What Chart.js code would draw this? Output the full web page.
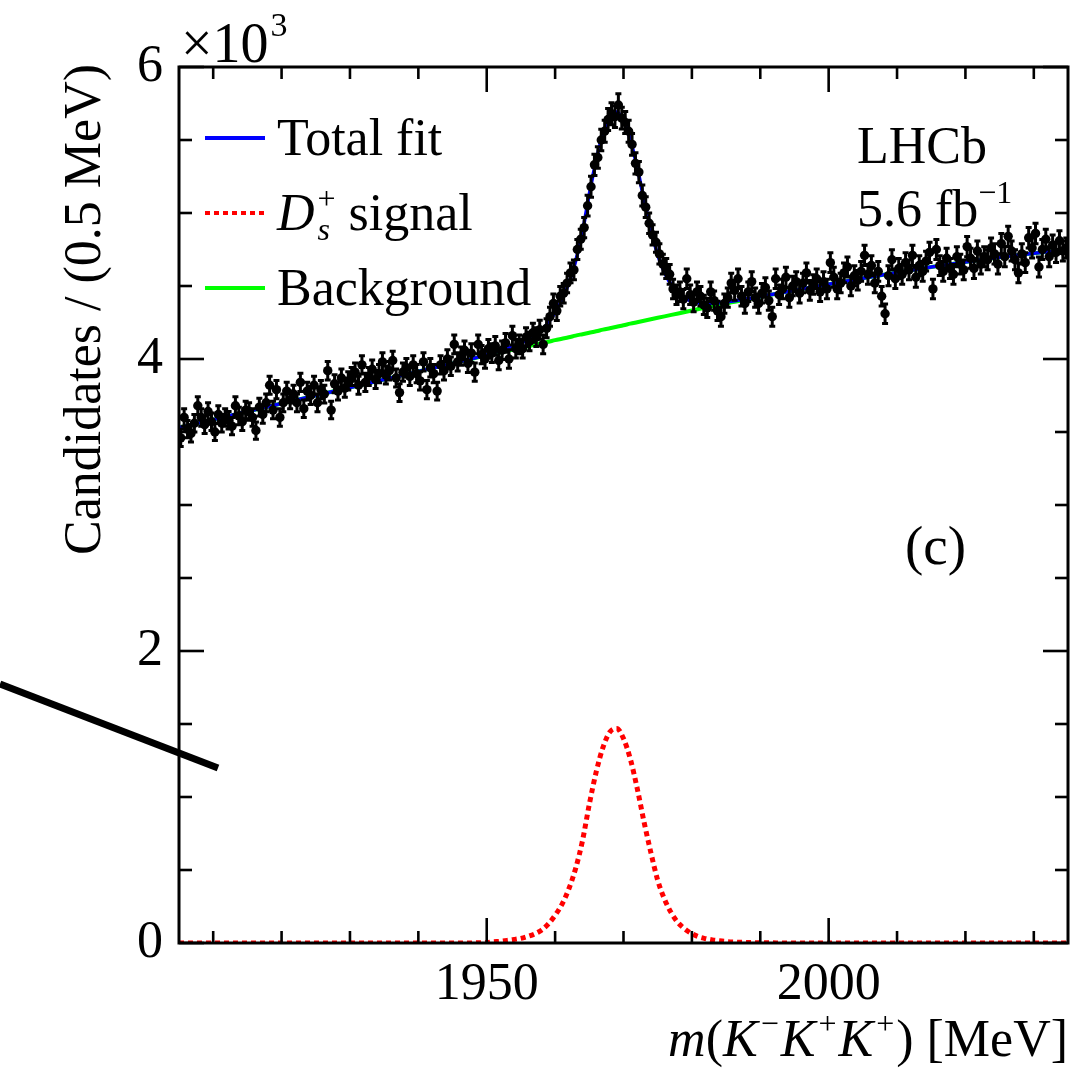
<!DOCTYPE html>
<html>
<head>
<meta charset="utf-8">
<script src="https://cdn.jsdelivr.net/npm/chart.js@4.4.1/dist/chart.umd.min.js"></script>
<style>
  html, body { margin: 0; padding: 0; background: #fff; }
  #wrap { width: 1076px; height: 1069px; }
</style>
</head>
<body>
<div id="wrap"><canvas id="massChart" width="1076" height="1069"></canvas></div>
<script>
// ── Data ───────────────────────────────────────────────────────
// binning of the histogram: 0.5 MeV bins from 1905 to 2035 MeV
const binLow = 1905;
const binWidth = 0.5;

// candidates per bin
const counts = [
  3460, 3600, 3520, 3490, 3560, 3680, 3600, 3550, 3640, 3570, 3500, 3620, 3560, 3600, 3580, 3540, 3680, 3610, 3570, 3650,
  3640, 3600, 3510, 3670, 3620, 3700, 3820, 3650, 3790, 3600, 3700, 3780, 3720, 3760, 3700, 3840, 3660, 3780, 3750, 3820,
  3700, 3790, 3760, 3920, 3650, 3830, 3780, 3870, 3800, 3850, 3880, 3910, 3820, 3960, 3840, 3880, 3930, 3860, 3900, 3980,
  3890, 3920, 3990, 3870, 3770, 3910, 3940, 3880, 3960, 3900, 3850, 3980, 3790, 3940, 3900, 3780, 3960, 3920, 4000, 3950,
  4100, 3980, 4020, 4060, 3970, 4040, 3910, 4100, 4030, 4000, 4070, 4040, 4090, 3990, 4060, 4110, 4000, 4160, 4070, 4100,
  4070, 4150, 4120, 4180, 4150, 4200, 4100, 4210, 4290, 4380, 4330, 4430, 4450, 4520, 4590, 4610, 4750, 4820, 4900, 5050,
  5180, 5330, 5380, 5500, 5560, 5640, 5680, 5660, 5740, 5650, 5620, 5560, 5470, 5340, 5280, 5120, 5040, 4930, 4850, 4800,
  4720, 4650, 4620, 4580, 4480, 4440, 4460, 4410, 4550, 4440, 4390, 4460, 4430, 4370, 4350, 4460, 4400, 4330, 4290, 4380,
  4420, 4520, 4470, 4550, 4430, 4380, 4460, 4530, 4420, 4380, 4450, 4490, 4400, 4290, 4550, 4440, 4480, 4560, 4420, 4500,
  4530, 4450, 4520, 4590, 4470, 4510, 4550, 4460, 4530, 4480, 4660, 4560, 4480, 4520, 4590, 4630, 4500, 4570, 4540, 4600,
  4710, 4580, 4640, 4520, 4600, 4430, 4310, 4570, 4680, 4550, 4620, 4580, 4660, 4610, 4710, 4560, 4640, 4600, 4670, 4730,
  4480, 4750, 4640, 4600, 4690, 4620, 4580, 4700, 4650, 4610, 4770, 4690, 4620, 4740, 4650, 4700, 4680, 4760, 4720, 4650,
  4790, 4700, 4840, 4740, 4680, 4590, 4720, 4660, 4830, 4760, 4860, 4630, 4750, 4820, 4700, 4780, 4730, 4810, 4740, 4760
];

// statistical uncertainty per bin
const errors = [
  59, 60, 59, 59, 60, 61, 60, 60, 60, 60, 59, 60, 60, 60, 60, 59, 61, 60, 60, 60,
  60, 60, 59, 61, 60, 61, 62, 60, 62, 60, 61, 61, 61, 61, 61, 62, 60, 61, 61, 62,
  61, 62, 61, 63, 60, 62, 61, 62, 62, 62, 62, 63, 62, 63, 62, 62, 63, 62, 62, 63,
  62, 63, 63, 62, 61, 63, 63, 62, 63, 62, 62, 63, 62, 63, 62, 61, 63, 63, 63, 63,
  64, 63, 63, 64, 63, 64, 63, 64, 63, 63, 64, 64, 64, 63, 64, 64, 63, 64, 64, 64,
  64, 64, 64, 65, 64, 65, 64, 65, 65, 66, 66, 67, 67, 67, 68, 68, 69, 69, 70, 71,
  72, 73, 73, 74, 75, 75, 75, 75, 76, 75, 75, 75, 74, 73, 73, 72, 71, 70, 70, 69,
  69, 68, 68, 68, 67, 67, 67, 66, 67, 67, 66, 67, 67, 66, 66, 67, 66, 66, 65, 66,
  66, 67, 67, 67, 67, 66, 67, 67, 66, 66, 67, 67, 66, 65, 67, 67, 67, 68, 66, 67,
  67, 67, 67, 68, 67, 67, 67, 67, 67, 67, 68, 68, 67, 67, 68, 68, 67, 68, 67, 68,
  69, 68, 68, 67, 68, 67, 66, 68, 68, 67, 68, 68, 68, 68, 69, 68, 68, 68, 68, 69,
  67, 69, 68, 68, 68, 68, 68, 69, 68, 68, 69, 68, 68, 69, 68, 69, 68, 69, 69, 68,
  69, 69, 70, 69, 68, 68, 69, 68, 70, 69, 70, 68, 69, 69, 69, 69, 69, 69, 69, 69
];

// fit curves, sampled on a mass grid
const fitMass = [
  1905, 1910, 1915, 1920, 1925, 1930, 1935, 1940, 1945, 1950,
  1951, 1952, 1953, 1954, 1955, 1956, 1957, 1958, 1959, 1960,
  1961, 1962, 1963, 1964, 1965, 1966, 1967, 1968, 1969, 1970,
  1971, 1972, 1973, 1974, 1975, 1976, 1977, 1978, 1979, 1980,
  1981, 1982, 1983, 1984, 1985, 1986, 1987, 1990, 1995, 2000,
  2005, 2010, 2015, 2020, 2025, 2030, 2035
];
const totalFit = [
  3530, 3585, 3640, 3695, 3750, 3805, 3860, 3915, 3970, 4028,
  4044, 4058, 4074, 4091, 4109, 4132, 4160, 4196, 4248, 4319,
  4404, 4519, 4670, 4870, 5130, 5360, 5541, 5656, 5691, 5631,
  5502, 5312, 5092, 4892, 4712, 4592, 4507, 4450, 4417, 4396,
  4384, 4382, 4382, 4386, 4390, 4397, 4404, 4428, 4470, 4512,
  4553, 4593, 4630, 4665, 4697, 4725, 4750
];
const signalFit = [
  0, 0, 0, 0, 0, 0, 0, 0, 0, 3,
  8, 12, 18, 24, 32, 45, 62, 88, 130, 190,
  265, 370, 510, 700, 950, 1170, 1340, 1445, 1470, 1400,
  1260, 1060, 830, 620, 430, 300, 205, 138, 95, 64,
  42, 30, 21, 15, 10, 7, 5, 2, 0, 0,
  0, 0, 0, 0, 0, 0, 0
];
const backgroundFit = [
  3530, 3585, 3640, 3695, 3750, 3805, 3860, 3915, 3970, 4025,
  4036, 4046, 4056, 4067, 4077, 4087, 4098, 4108, 4118, 4129,
  4139, 4149, 4160, 4170, 4180, 4190, 4201, 4211, 4221, 4231,
  4242, 4252, 4262, 4272, 4282, 4292, 4302, 4312, 4322, 4332,
  4342, 4352, 4361, 4371, 4380, 4390, 4399, 4426, 4470, 4512,
  4553, 4593, 4630, 4665, 4697, 4725, 4750
];

// axes
const xRange = [1905, 2035];
const yRange = [0, 6000];
const xMajorTicks = [1950, 2000];
const xMinorTicks = [1910, 1920, 1930, 1940, 1960, 1970, 1980, 1990, 2010, 2020, 2030];
const yMajorTicks = [0, 2000, 4000, 6000];
const yMinorTicks = [500, 1000, 1500, 2500, 3000, 3500, 4500, 5000, 5500];


// ── Helpers ────────────────────────────────────────────────────
const SERIF = '"Liberation Serif", "Times New Roman", serif';
const FS = 52;

function pts(xs, ys) {
  return xs.map((x, i) => ({ x: x, y: ys[i] }));
}

const histPoints = counts.map((c, i) => ({ x: binLow + binWidth * (i + 0.5), y: c, e: errors[i] }));

// draw a run of text pieces (italic / sub / sup) starting at x
function setFont(ctx, p) {
  ctx.font = (p.it ? 'italic ' : '') + Math.round(FS * (p.s || 1)) + 'px ' + SERIF;
}
function richWidth(ctx, parts) {
  let w = 0;
  parts.forEach(p => {
    setFont(ctx, p);
    if (p.adv !== false) w += ctx.measureText(p.t).width + (p.gap || 0);
  });
  return w;
}
function drawRich(ctx, x, y, parts, align) {
  let cx = align === 'right' ? x - richWidth(ctx, parts) : x;
  parts.forEach(p => {
    setFont(ctx, p);
    ctx.fillText(p.t, cx, y + (p.dy || 0) * FS);
    if (p.adv !== false) cx += ctx.measureText(p.t).width + (p.gap || 0);
  });
}


// ── Error bars ─────────────────────────────────────────────────
const errorBarPlugin = {
  id: 'errorBars',
  afterDatasetsDraw(chart) {
    const { ctx, chartArea: a, scales: { x, y } } = chart;
    ctx.save();
    ctx.beginPath();
    ctx.rect(a.left, a.top, a.right - a.left, a.bottom - a.top);
    ctx.clip();
    ctx.strokeStyle = '#000';
    ctx.lineWidth = 3;
    histPoints.forEach(p => {
      const px = x.getPixelForValue(p.x);
      const hi = y.getPixelForValue(p.y + p.e);
      const lo = y.getPixelForValue(p.y - p.e);
      ctx.beginPath();
      ctx.moveTo(px, hi); ctx.lineTo(px, lo);
      ctx.moveTo(px - 3, hi); ctx.lineTo(px + 3, hi);
      ctx.moveTo(px - 3, lo); ctx.lineTo(px + 3, lo);
      ctx.stroke();
    });
    ctx.restore();
  }
};


// ── Frame and inward ticks ─────────────────────────────────────
const framePlugin = {
  id: 'frame',
  afterDatasetsDraw(chart) {
    const { ctx, chartArea: a, scales: { x, y } } = chart;
    const tick = (x1, y1, x2, y2) => {
      ctx.beginPath(); ctx.moveTo(x1, y1); ctx.lineTo(x2, y2); ctx.stroke();
    };
    ctx.save();
    ctx.strokeStyle = '#000';
    ctx.lineWidth = 2.6;
    [[xMajorTicks, 25], [xMinorTicks, 12]].forEach(([list, len]) => {
      list.forEach(v => {
        const px = x.getPixelForValue(v);
        tick(px, a.bottom, px, a.bottom - len);
        tick(px, a.top, px, a.top + len);
      });
    });
    [[yMajorTicks, 25], [yMinorTicks, 13]].forEach(([list, len]) => {
      list.forEach(v => {
        const py = y.getPixelForValue(v);
        tick(a.left, py, a.left + len, py);
        tick(a.right, py, a.right - len, py);
      });
    });
    ctx.lineWidth = 3;
    ctx.strokeRect(a.left, a.top, a.right - a.left, a.bottom - a.top);
    ctx.restore();
  }
};


// ── Titles, legend and labels ──────────────────────────────────
const textPlugin = {
  id: 'texts',
  afterDraw(chart) {
    const { ctx, chartArea: a } = chart;
    ctx.save();
    ctx.fillStyle = '#000';
    ctx.textBaseline = 'alphabetic';
    ctx.textAlign = 'left';

    // ×10^3 above the y axis
    drawRich(ctx, a.left + 2, 62, [
      { t: '×10', s: 1.08, gap: 2 },
      { t: '3', s: 0.66, dy: -0.5 }
    ]);

    // y title, aligned with the top of the axis
    ctx.save();
    ctx.translate(100, a.top - 3);
    ctx.rotate(-Math.PI / 2);
    ctx.textAlign = 'right';
    ctx.font = FS + 'px ' + SERIF;
    ctx.fillText('Candidates / (0.5 MeV)', 0, 0);
    ctx.restore();

    // x title, aligned with the right end of the axis
    drawRich(ctx, a.right, 1056, [
      { t: 'm', it: true },
      { t: '(' },
      { t: 'K', it: true, gap: 3 },
      { t: '\u2212', s: 0.62, dy: -0.42, gap: 2 },
      { t: 'K', it: true, gap: 3 },
      { t: '+', s: 0.62, dy: -0.42, gap: 2 },
      { t: 'K', it: true, gap: 3 },
      { t: '+', s: 0.62, dy: -0.42, gap: 2 },
      { t: ')' },
      { t: ' [MeV]' }
    ], 'right');

    // legend
    const legend = [
      { color: '#0000ff', dash: [], parts: [{ t: 'Total fit' }] },
      { color: '#ff0000', dash: [5, 4], parts: [
        { t: 'D', it: true, gap: 3 },
        { t: 's', it: true, s: 0.62, dy: 0.2, adv: false },
        { t: '+', s: 0.62, dy: -0.4, gap: 0 },
        { t: ' signal' }
      ] },
      { color: '#00ff00', dash: [], parts: [{ t: 'Background' }] }
    ];
    legend.forEach((item, i) => {
      const yy = 138 + i * 75;
      ctx.save();
      ctx.strokeStyle = item.color;
      ctx.lineWidth = 4;
      ctx.setLineDash(item.dash);
      ctx.beginPath();
      ctx.moveTo(205, yy); ctx.lineTo(265, yy);
      ctx.stroke();
      ctx.restore();
      drawRich(ctx, 277, yy + 17, item.parts);
    });

    // experiment label
    ctx.font = FS + 'px ' + SERIF;
    ctx.fillText('LHCb', 857, 163);
    drawRich(ctx, 857, 226, [
      { t: '5.6 fb' },
      { t: '\u22121', s: 0.62, dy: -0.45 }
    ]);
    ctx.font = Math.round(FS * 1.06) + 'px ' + SERIF;
    ctx.fillText('(c)', 905, 564);

    // stray stroke at the left edge
    ctx.strokeStyle = '#000';
    ctx.lineWidth = 7;
    ctx.lineCap = 'butt';
    ctx.beginPath();
    ctx.moveTo(0, 684);
    ctx.lineTo(a.left + 39, 768);
    ctx.stroke();
    ctx.restore();
  }
};


// ── Chart ──────────────────────────────────────────────────────
const lineStyle = {
  showLine: true,
  pointRadius: 0,
  borderWidth: 3.5,
  fill: false,
  cubicInterpolationMode: 'monotone'
};

new Chart(document.getElementById('massChart').getContext('2d'), {
  type: 'scatter',
  data: {
    datasets: [
      {
        label: 'Data',
        data: histPoints,
        order: 0,
        showLine: false,
        pointRadius: 4.7,
        pointBackgroundColor: '#000',
        pointBorderWidth: 0
      },
      Object.assign({ label: 'Total fit', data: pts(fitMass, totalFit), order: 1, borderColor: '#0000ff' }, lineStyle),
      Object.assign({ label: 'Signal', data: pts(fitMass, signalFit), order: 2, borderColor: '#ff0000', borderDash: [5, 4] }, lineStyle, { borderWidth: 5 }),
      Object.assign({ label: 'Background', data: pts(fitMass, backgroundFit), order: 3, borderColor: '#00ff00' }, lineStyle, { borderWidth: 4 })
    ]
  },
  options: {
    responsive: false,
    animation: false,
    events: [],
    layout: { padding: { left: 0, top: 67, right: 8, bottom: 0 } },
    plugins: {
      legend: { display: false },
      tooltip: { enabled: false }
    },
    scales: {
      x: {
        type: 'linear',
        min: xRange[0],
        max: xRange[1],
        grid: { display: false },
        border: { display: false },
        afterBuildTicks: s => { s.ticks = xMajorTicks.map(v => ({ value: v })); },
        afterFit: s => { s.height = 126; },
        ticks: {
          color: '#000',
          padding: 3,
          maxRotation: 0,
          font: { family: SERIF, size: FS },
          callback: v => String(v)
        }
      },
      y: {
        type: 'linear',
        min: yRange[0],
        max: yRange[1],
        grid: { display: false },
        border: { display: false },
        afterBuildTicks: s => { s.ticks = yMajorTicks.map(v => ({ value: v })); },
        afterFit: s => { s.width = 179; },
        ticks: {
          color: '#000',
          padding: 8,
          font: { family: SERIF, size: FS },
          callback: v => String(v / 1000)
        }
      }
    }
  },
  plugins: [errorBarPlugin, framePlugin, textPlugin]
});
</script>
</body>
</html>
